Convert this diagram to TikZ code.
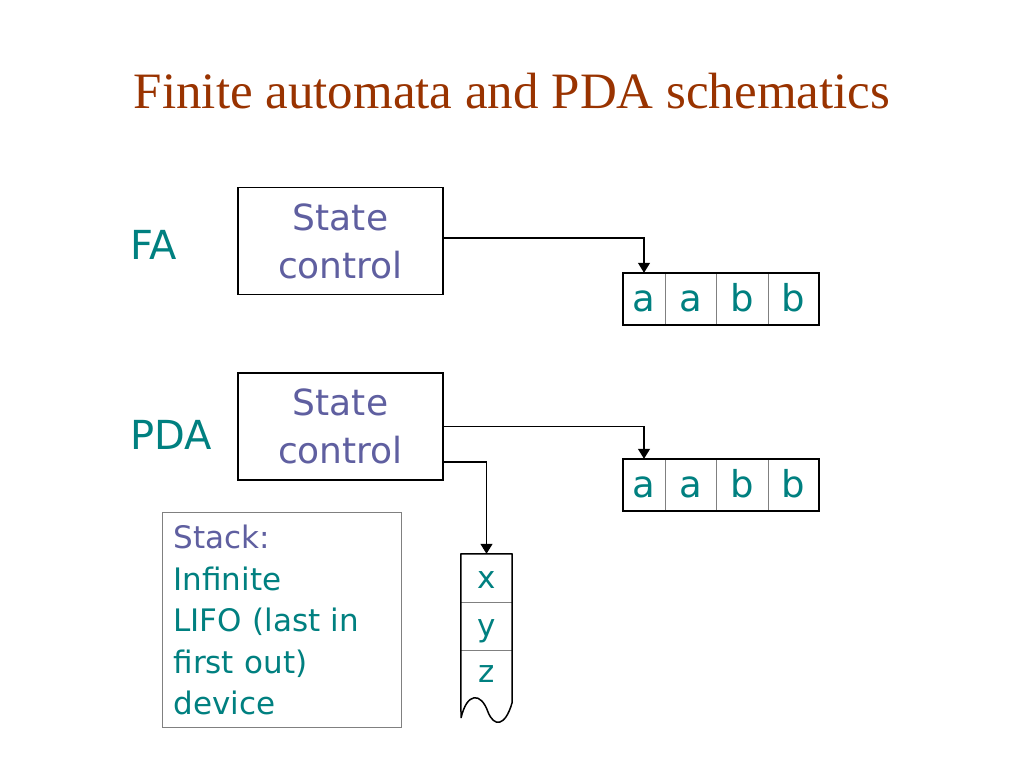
\documentclass[tikz,border=0pt]{standalone}
\usepackage{fontspec}
\setmainfont{DejaVu Sans}
\newfontfamily\titlefont{Liberation Serif}
\usetikzlibrary{arrows.meta}
\definecolor{titlered}{RGB}{153,51,0}
\definecolor{teal2}{RGB}{0,128,128}
\definecolor{purp}{RGB}{95,95,160}
\begin{document}
\begin{tikzpicture}[x=1pt,y=-1pt,
  ctrl/.style={draw, line width=1.5pt, minimum width=205pt, minimum height=107pt, align=center,
    text=purp, font=\fontsize{36}{48}\selectfont, inner sep=0pt},
  cell/.style={minimum height=52pt, inner sep=0pt, text=teal2,
    font=\fontsize{37}{40}\selectfont, text height=24pt, text depth=0pt},
  scell/.style={minimum width=51pt, minimum height=48pt, inner sep=0pt, text=teal2,
    font=\fontsize{31}{34}\selectfont, text height=20pt, text depth=0pt},
  lbl/.style={anchor=base west, text=teal2, font=\fontsize{40}{44}\selectfont, inner sep=0pt},
  conn/.style={line width=1.2pt, -{Triangle[length=10pt,width=12pt]}},
  outline/.style={line width=1.5pt},
  divider/.style={line width=0.8pt, gray}
]
\useasboundingbox (0,0) rectangle (1024,768);
\fill[white] (0,0) rectangle (1024,768);

\node[anchor=base, text=titlered, font=\titlefont\fontsize{51}{54}\selectfont, inner sep=0pt]
  (title) at (512,108) {Finite automata and PDA schematics};

\node[lbl] (fa) at (130,259) {FA};
\node[lbl] (pda) at (130,449) {PDA};

\node[ctrl] (c1) at (340.5,241) {State\\control};
\node[ctrl] (c2) at (340.5,426.5) {State\\control};

% tape 1
\node[cell, minimum width=42pt] (t1a) at (644,299) {a};
\node[cell, minimum width=51pt] (t1b) at (690.5,299) {a};
\node[cell, minimum width=52pt] (t1c) at (742,299) {b};
\node[cell, minimum width=51pt] (t1d) at (793.5,299) {b};
\draw[divider] (t1a.north east) -- (t1a.south east);
\draw[divider] (t1b.north east) -- (t1b.south east);
\draw[divider] (t1c.north east) -- (t1c.south east);
\draw[outline] (t1a.north west) rectangle (t1d.south east);

% tape 2
\node[cell, minimum width=42pt] (t2a) at (644,485) {a};
\node[cell, minimum width=51pt] (t2b) at (690.5,485) {a};
\node[cell, minimum width=52pt] (t2c) at (742,485) {b};
\node[cell, minimum width=51pt] (t2d) at (793.5,485) {b};
\draw[divider] (t2a.north east) -- (t2a.south east);
\draw[divider] (t2b.north east) -- (t2b.south east);
\draw[divider] (t2c.north east) -- (t2c.south east);
\draw[outline] (t2a.north west) rectangle (t2d.south east);

% stack
\node[scell] (sx) at (486.5,578) {x};
\node[scell] (sy) at (486.5,626) {y};
\node[scell] (sz) at (486.5,672) {z};
\draw[divider] (sx.south west) -- (sx.south east);
\draw[divider] (sy.south west) -- (sy.south east);
\draw[outline, line join=round] (461,718) -- (sx.north west) -- (sx.north east) -- (512,703)
  .. controls (505,727) and (494,727) .. (488,712)
  .. controls (481,692) and (467,692) .. (461,718);

% connectors
\draw[conn] ([yshift=3pt]c1.east) -| (t1a.north);
\draw[conn] (c2.east) -| (t2a.north);
\draw[conn] ([yshift=-35.5pt]c2.east) -| (sx.north);

% stack description
\node[draw=gray, line width=1pt, anchor=north west, minimum width=239pt, minimum height=215pt,
  text width=217pt, align=left, inner xsep=11pt, inner ysep=0pt,
  font=\fontsize{31}{41.5}\selectfont, text=teal2] (desc) at (162,512)
  {\textcolor{purp}{Stack:}\\Infinite\\LIFO (last in\\first out)\\device};
\end{tikzpicture}
\end{document}
